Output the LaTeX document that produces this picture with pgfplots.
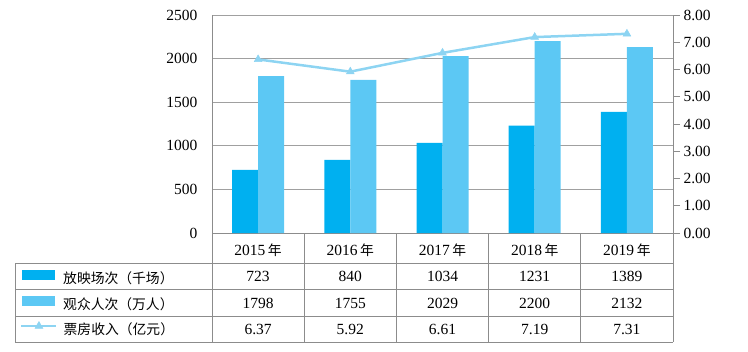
\documentclass[border=0pt]{standalone}
\usepackage{pgfplots}
\pgfplotsset{compat=1.18}
\usepackage{fontspec}
\setmainfont{Liberation Serif}
\newfontfamily\cjk{Noto Sans CJK SC}[Scale=0.89]
\definecolor{barA}{HTML}{00B0F0}
\definecolor{barB}{HTML}{5CC8F4}
\definecolor{lineC}{HTML}{8DD4F2}
\definecolor{gridc}{HTML}{A0A0A0}
\definecolor{tabc}{HTML}{8C8C8C}
\begin{document}
\begin{tikzpicture}[x=1bp,y=1bp,font=\fontsize{15.5bp}{18bp}\selectfont]
\useasboundingbox (0,0) rectangle (748,351);
\begin{axis}[
  at={(212bp,118bp)}, anchor=south west, scale only axis,
  width=461bp, height=218bp,
  xmin=-0.5, xmax=4.5, ymin=0, ymax=2500,
  ybar=0pt, bar width=26bp,
  xtick={0,1,2,3,4},
  xticklabels={2015\,{\cjk 年},2016\,{\cjk 年},2017\,{\cjk 年},2018\,{\cjk 年},2019\,{\cjk 年}},
  xticklabel style={anchor=center, yshift=-17.7bp},
  ytick={0,500,1000,1500,2000,2500},
  yticklabel style={xshift=-11bp},
  major tick length=0pt,
  ymajorgrids, grid style={gridc, line width=0.8bp},
  axis x line*=bottom, axis y line*=left,
  axis line style={tabc, line width=0.8bp, -},
  /pgf/number format/assume math mode=true,
  /pgf/number format/1000 sep={},
  legend style={at={(axis description cs:-0.4121,-0.1697)}, anchor=north west,
    draw=none, fill=none, inner sep=0pt, row sep=9bp, column sep=8bp,
    nodes={inner sep=0pt, anchor=west, text height=10bp, text depth=3bp},
    font=\fontsize{15.5bp}{18bp}\selectfont\cjk},
  legend cell align=left,
  clip=false,
]
\addplot[fill=barA, draw=none,
  legend image code/.code={\fill[barA] (0bp,0bp) rectangle (33bp,10bp);}]
  coordinates {(0,723) (1,840) (2,1034) (3,1231) (4,1389)};
\addlegendentry{放映场次（千场）}
\addplot[fill=barB, draw=none,
  legend image code/.code={\fill[barB] (0bp,0bp) rectangle (33bp,10bp);}]
  coordinates {(0,1798) (1,1755) (2,2029) (3,2200) (4,2132)};
\addlegendentry{观众人次（万人）}
\end{axis}
\begin{axis}[
  at={(212bp,118bp)}, anchor=south west, scale only axis,
  width=461bp, height=218bp,
  xmin=-0.5, xmax=4.5, ymin=0, ymax=8,
  axis x line=none, axis y line*=right,
  ytick={0,1,2,3,4,5,6,7,8},
  yticklabel style={/pgf/number format/.cd, fixed, fixed zerofill, precision=2},
  /pgf/number format/assume math mode=true,
  tick align=outside, major tick length=7bp,
  ytick style={tabc, line width=0.8bp},
  axis line style={tabc, line width=0.8bp, -},
  legend style={at={(axis description cs:-0.4165,-0.4427)}, anchor=west,
    draw=none, fill=none, inner sep=0pt, column sep=6bp,
    nodes={inner sep=0pt, anchor=west, text height=10bp, text depth=3bp},
    font=\fontsize{15.5bp}{18bp}\selectfont\cjk},
  legend cell align=left,
  legend image code/.code={%
    \draw[#1, mark repeat=2, mark phase=2] plot coordinates {(0bp,5bp) (17.5bp,5bp) (35bp,5bp)};},
  clip=false,
]
\addplot[lineC, line width=2.5bp, mark=triangle*, mark size=4.5bp,
  mark options={fill=lineC, line width=0.5bp}]
  coordinates {(0,6.37) (1,5.92) (2,6.61) (3,7.19) (4,7.31)};
\addlegendentry{票房收入（亿元）}
\end{axis}
% data table grid
\begin{scope}[tabc, line width=0.8bp]
\draw (15,87.7) -- (673,87.7);
\draw (15,61.2) -- (673,61.2);
\draw (15,35) -- (673,35);
\draw (15,9) -- (673,9);
\draw (15,87.7) -- (15,9);
\foreach \xx in {212,304.2,396.4,488.6,580.8,673} {\draw (\xx,118) -- (\xx,9);}
\end{scope}
\foreach \xx/\a/\b/\c in {258.1/723/1798/6.37, 350.3/840/1755/5.92, 442.5/1034/2029/6.61, 534.7/1231/2200/7.19, 626.9/1389/2132/7.31} {
  \node[inner sep=0pt] at (\xx,74.5) {\a};
  \node[inner sep=0pt] at (\xx,48) {\b};
  \node[inner sep=0pt] at (\xx,22) {\c};
}
\end{tikzpicture}
\end{document}
